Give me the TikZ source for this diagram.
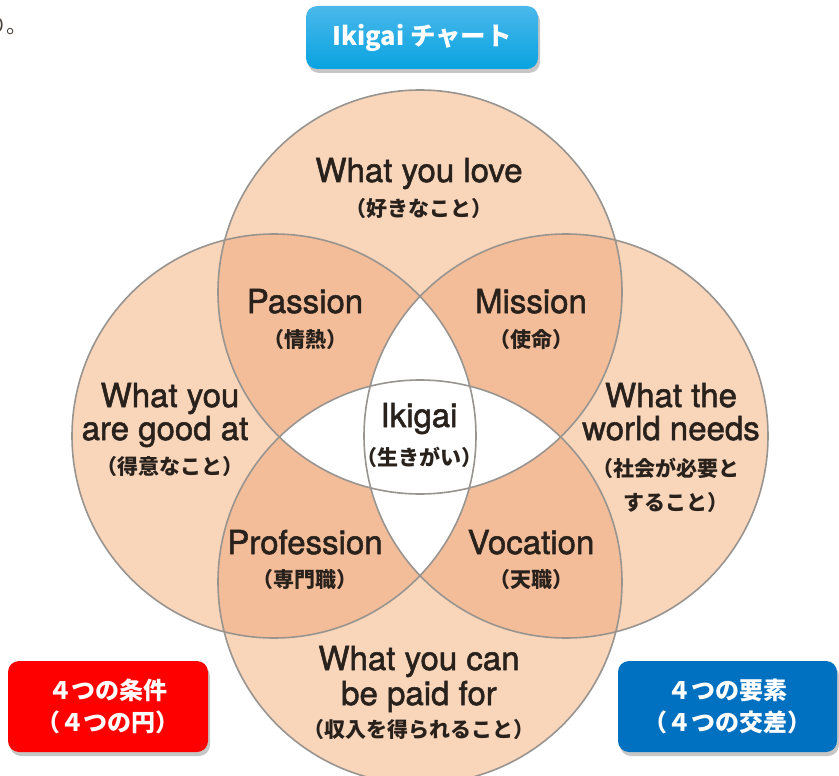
\documentclass[tikz,border=0pt]{standalone}
\usepackage{fontspec}
\setmainfont{TeX Gyre Heros}
\newfontfamily\en{TeX Gyre Heros}[FakeBold=1.6]
\newfontfamily\jp{Noto Sans CJK JP}
\usetikzlibrary{shadows}
\definecolor{peach}{RGB}{249,213,186}
\definecolor{peachdk}{RGB}{244,189,153}
\definecolor{ringgray}{RGB}{152,148,144}
\definecolor{txt}{RGB}{40,33,28}
\definecolor{titletop}{RGB}{74,184,235}
\definecolor{titlebot}{RGB}{8,163,224}
\definecolor{redbox}{RGB}{255,0,0}
\definecolor{bluebox}{RGB}{0,112,192}
\newcommand{\lp}{\kern-0.5em（}
\newcommand{\rp}{）\kern-0.5em}
\begin{document}
\begin{tikzpicture}[x=1pt,y=-1pt,
  en/.style={font=\en\fontsize{33}{38}\selectfont, text=txt, inner sep=0pt, anchor=base},
  jp/.style={font=\jp\bfseries\fontsize{21}{24}\selectfont, text=txt, inner sep=0pt, anchor=base},
  ring/.style={draw=ringgray, line width=1.6pt},
  badge/.style={rounded corners=11pt, text=white, align=center, inner sep=0pt,
    drop shadow={opacity=0.45, shadow xshift=2pt, shadow yshift=-4pt}},
]
\useasboundingbox (0,0) rectangle (839,776);
\clip (0,0) rectangle (839,776);
\coordinate (T) at (420,292);
\coordinate (B) at (420,582);
\coordinate (L) at (274,436);
\coordinate (R) at (566,436);
% fills
\fill[peach] (T) circle (202pt) (B) circle (202pt) (L) circle (202pt) (R) circle (202pt);
\begin{scope}
  \clip (T) circle (202pt);
  \fill[peachdk] (L) circle (202pt) (R) circle (202pt);
\end{scope}
\begin{scope}
  \clip (B) circle (202pt);
  \fill[peachdk] (L) circle (202pt) (R) circle (202pt);
\end{scope}
\begin{scope}
  \clip (L) circle (202pt);
  \fill[white] (R) circle (202pt);
\end{scope}
\begin{scope}
  \clip (T) circle (202pt);
  \fill[white] (B) circle (202pt);
\end{scope}
\draw[ring] (T) circle (202pt) (B) circle (202pt) (L) circle (202pt) (R) circle (202pt);
% labels
\node[en] (love1) at (419,182) {What you love};
\node[jp] (love2) at (419,216) {\lp 好きなこと\rp};
\node[en] (pass1) at (305,313) {Passion};
\node[jp] (pass2) at (305,347) {\lp 情熱\rp};
\node[en] (miss1) at (531,313) {Mission};
\node[jp] (miss2) at (531,347) {\lp 使命\rp};
\node[en] (good1) at (170,407) {What you};
\node[en] (good2) at (165,440) {are good at};
\node[jp] (good3) at (170,474) {\lp 得意なこと\rp};
\node[en] (world1) at (671,407) {What the};
\node[en] (world2) at (671,440) {world needs};
\node[jp] (world3) at (671,476) {\lp 社会が必要と};
\node[jp] (world4) at (671,510) {すること\rp};
\node[en] (iki1) at (419,427) {Ikigai};
\node[jp] (iki2) at (419,465) {\lp 生きがい\rp};
\node[en] (prof1) at (305,554) {Profession};
\node[jp] (prof2) at (305,587) {\lp 専門職\rp};
\node[en] (voc1) at (531,554) {Vocation};
\node[jp] (voc2) at (531,587) {\lp 天職\rp};
\node[en] (paid1) at (419,670) {What you can};
\node[en] (paid2) at (419,705) {be paid for};
\node[jp] (paid3) at (419,737) {\lp 収入を得られること\rp};
% badges
\node[badge, top color=titletop, bottom color=titlebot, minimum width=232pt, minimum height=63pt,
  font=\jp\bfseries\fontsize{25.5}{28}\selectfont] (title) at (422,37.5) {Ikigai チャート};
\node[badge, fill=redbox, minimum width=200pt, minimum height=91pt,
  font=\jp\bfseries\fontsize{24}{32}\selectfont] (cond) at (108,706.5) {４つの条件\\\lp ４つの円\rp};
\node[badge, fill=bluebox, minimum width=219pt, minimum height=91pt,
  font=\jp\bfseries\fontsize{24}{32}\selectfont] (elem) at (727.5,706.5) {４つの要素\\\lp ４つの交差\rp};
% fragment of preceding text
\node[font=\jp\fontsize{21}{24}\selectfont, text=txt!85, anchor=base east, inner sep=0pt] (frag) at (28,34) {り。};
\end{tikzpicture}
\end{document}
